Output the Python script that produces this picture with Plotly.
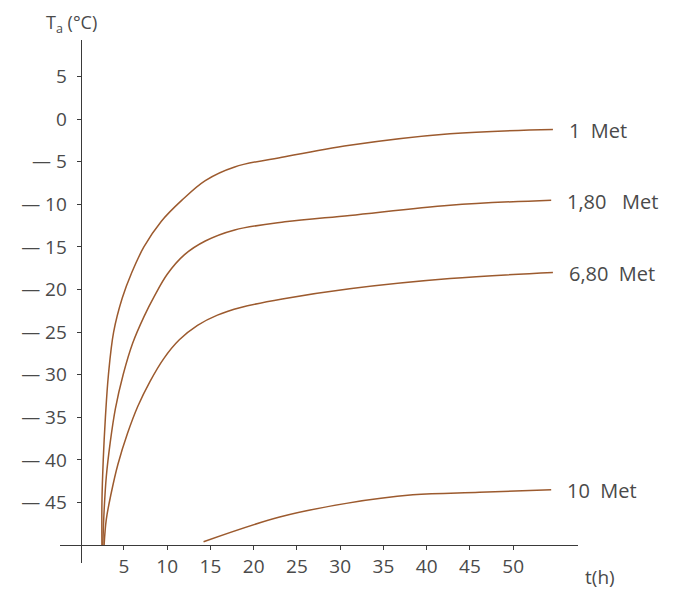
import plotly.graph_objects as go

# ---- data ----
t_1met = [2.45, 2.45, 2.6, 2.85, 3.2, 3.8, 4.8, 5.9, 7.3, 9.3, 11.7, 14.4, 17.8, 23.6, 31.1, 42.7, 54.6]
T_1met = [-50, -45, -40, -35, -30, -25, -21, -18, -15, -12, -9.5, -7.2, -5.6, -4.4, -3.05, -1.7, -1.2]

t_180met = [2.55, 2.7, 2.95, 3.4, 4.0, 4.9, 6.0, 7.3, 8.5, 10.0, 12.0, 14.4, 17.8, 23.6, 31.1, 42.7, 54.4]
T_180met = [-50, -46, -42, -38, -34, -30, -26.3, -23.2, -20.8, -18.2, -15.9, -14.3, -13.0, -12.05, -11.3, -10.1, -9.5]

t_680met = [2.7, 2.95, 3.5, 4.3, 5.4, 6.6, 8.0, 9.6, 11.4, 13.5, 15.8, 18.5, 23.3, 31.1, 42.7, 54.6]
T_680met = [-50, -47, -44, -40.5, -36.9, -33.7, -30.8, -28.1, -25.9, -24.2, -23.0, -22.1, -21.1, -19.9, -18.7, -18.0]

t_10met = [14.2, 23.0, 30.7, 38.4, 46.1, 54.4]
T_10met = [-49.6, -46.7, -45.1, -44.1, -43.8, -43.5]

series_names = ["1  Met", "1,80   Met", "6,80  Met", "10  Met"]

x_tickvals = [5, 10, 15, 20, 25, 30, 35, 40, 45, 50]
x_ticktext = ["5", "10", "15", "20", "25", "30", "35", "40", "45", "50"]
y_tickvals = [5, 0, -5, -10, -15, -20, -25, -30, -35, -40, -45]
y_ticktext = ["5", "0", "— 5", "— 10", "— 15", "— 20", "— 25", "— 30", "— 35", "— 40", "— 45"]

x_range = [-2.4, 57.5]
y_range = [-52.1, 9.3]
x_axis_at_y = -50
y_axis_at_x = 0

# ---- styling ----
line_color = "#9c5a2e"
text_color = "#4a4a4a"
font_family = "Open Sans, Lato, sans-serif"

fig = go.Figure()
all_series = [(t_1met, T_1met), (t_180met, T_180met), (t_680met, T_680met), (t_10met, T_10met)]
for (xs, ys), name in zip(all_series, series_names):
    fig.add_trace(go.Scatter(
        x=xs, y=ys, mode="lines", name=name,
        line=dict(color=line_color, width=1.5, shape="spline", smoothing=1.0),
        showlegend=False, hoverinfo="skip"))
    fig.add_annotation(x=xs[-1], y=ys[-1], text=name, showarrow=False,
                       xanchor="left", yanchor="middle", xshift=14, yshift=-1,
                       font=dict(size=20, color=text_color, family=font_family))

xpos = (x_axis_at_y - y_range[0]) / (y_range[1] - y_range[0])
ypos = (y_axis_at_x - x_range[0]) / (x_range[1] - x_range[0])

# page body has an 8px default margin, so the figure is 8px smaller
fig.update_layout(
    width=667, height=582,
    margin=dict(l=52, r=97, t=32, b=27),
    paper_bgcolor="white", plot_bgcolor="white",
    font=dict(family=font_family, color=text_color, size=19),
    xaxis=dict(range=x_range, anchor="free", position=xpos,
               showline=True, linecolor="#3a3a3a", linewidth=1.2,
               showgrid=False, zeroline=False,
               tickmode="array", tickvals=x_tickvals, ticktext=x_ticktext,
               ticks="outside", ticklen=4, tickwidth=1, tickcolor="#3a3a3a",
               ticklabelstandoff=0,
               tickfont=dict(size=19, color=text_color), automargin=False),
    yaxis=dict(range=y_range, anchor="free", position=ypos,
               showline=True, linecolor="#3a3a3a", linewidth=1.2,
               showgrid=False, zeroline=False,
               tickmode="array", tickvals=y_tickvals, ticktext=y_ticktext,
               ticks="outside", ticklen=4, tickwidth=1, tickcolor="#3a3a3a",
               ticklabelstandoff=6,
               tickfont=dict(size=19, color=text_color), automargin=False),
)

fig.add_annotation(xref="paper", yref="paper", x=-0.03, y=1.0, yshift=17,
                   text="T<sub>a</sub> (°C)", showarrow=False,
                   xanchor="left", yanchor="middle",
                   font=dict(size=18, color=text_color, family=font_family))
fig.add_annotation(xref="paper", yref="paper", x=1.0, y=0.0, xshift=5, yshift=-14,
                   text="t(h)", showarrow=False,
                   xanchor="left", yanchor="middle",
                   font=dict(size=19, color=text_color, family=font_family))

fig.write_html("out.html")
